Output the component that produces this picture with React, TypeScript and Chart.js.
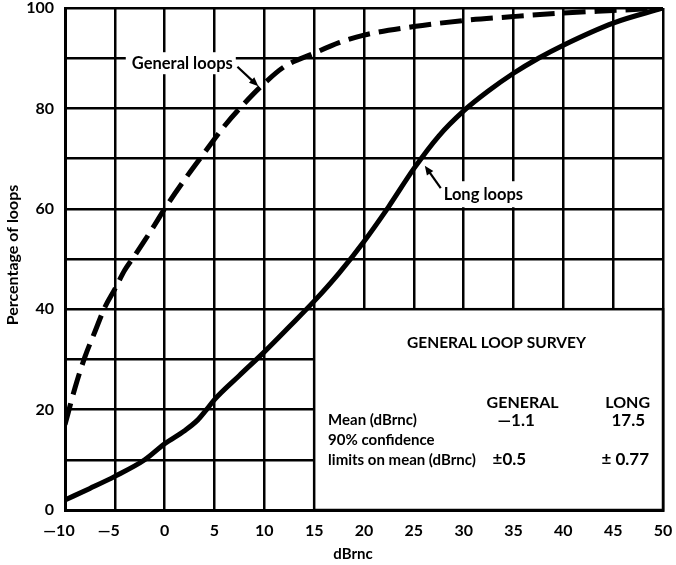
import React, { useEffect, useRef } from 'react';
import { Chart, registerables } from 'chart.js';

Chart.register(...registerables);

// ---- data ----
const generalX = [-10, -9, -8, -7, -6, -5, -4, -3, -2, -1, 0, 2, 4, 6, 8, 10, 12, 15, 17.5, 20, 25, 30, 35, 40, 45, 50];
const generalY = [17, 24.3, 30.5, 35.5, 40.4, 44, 47.8, 50.7, 53.7, 56.8, 60, 65.8, 71.2, 76.5, 81, 85, 88.3, 91, 93.1, 94.6, 96.3, 97.5, 98.3, 99, 99.5, 100];

const longX = [-10, -7.5, -5, -2, 0, 2, 3.3, 4.2, 5, 7.5, 10, 12.5, 15, 17.5, 20, 22.5, 25, 27.5, 30, 32.5, 35, 37.5, 40, 45, 50];
const longY = [2, 4.3, 6.7, 10, 13.2, 15.8, 17.9, 20, 22, 26.8, 31.5, 36.5, 41.6, 47.2, 53.5, 60.5, 68, 74.5, 79.5, 83.5, 87, 90, 92.6, 97, 100];

const yLabelValues = [0, 20, 40, 60, 80, 100];

const surveyTitle = 'GENERAL LOOP SURVEY';
const surveyColumns = ['GENERAL', 'LONG'];
const surveyRows = ['Mean (dBrnc)', '90% confidence', 'limits on mean (dBrnc)'];
const meanValues = ['\u20141.1', '17.5'];
const limitValues = ['\u00b10.5', '\u00b1 0.77'];

const FONT = 'Lato, "DejaVu Sans", sans-serif';

function arrow(ctx: CanvasRenderingContext2D, x0: number, y0: number, x1: number, y1: number) {
  const ang = Math.atan2(y1 - y0, x1 - x0);
  const head = 10;
  ctx.beginPath();
  ctx.moveTo(x0, y0);
  ctx.lineTo(x1 - Math.cos(ang) * head * 0.8, y1 - Math.sin(ang) * head * 0.8);
  ctx.lineWidth = 2.2;
  ctx.stroke();
  ctx.beginPath();
  ctx.moveTo(x1, y1);
  ctx.lineTo(x1 - head * Math.cos(ang - 0.4), y1 - head * Math.sin(ang - 0.4));
  ctx.lineTo(x1 - head * Math.cos(ang + 0.4), y1 - head * Math.sin(ang + 0.4));
  ctx.closePath();
  ctx.fill();
}

const overlayPlugin = {
  id: 'overlay',
  beforeDatasetsDraw(chart: any) {
    const { ctx, scales } = chart;
    const xs = scales.x;
    const ys = scales.y;
    const X = (v: number) => xs.getPixelForValue(v);
    const Y = (v: number) => ys.getPixelForValue(v);
    ctx.save();
    // white survey box
    const l = X(15), r = X(50), t = Y(40), b = Y(0);
    ctx.fillStyle = '#fff';
    ctx.fillRect(l, t, r - l, b - t);
    ctx.strokeStyle = '#000';
    ctx.lineWidth = 2.5;
    ctx.strokeRect(l, t, r - l, b - t);

    ctx.fillStyle = '#000';
    ctx.textBaseline = 'middle';
    ctx.font = `bold 15.5px ${FONT}`;
    ctx.textAlign = 'center';
    ctx.fillText(surveyTitle, X(33.3), Y(33.3));

    ctx.font = `bold 16px ${FONT}`;
    ctx.textAlign = 'left';
    ctx.fillText(surveyColumns[0], X(32.3), Y(21.3));
    ctx.textAlign = 'right';
    ctx.fillText(surveyColumns[1], X(48.7), Y(21.3));

    ctx.font = `bold 15px ${FONT}`;
    ctx.textAlign = 'left';
    ctx.fillText(surveyRows[0], X(16.4), Y(17.9));
    ctx.fillText(surveyRows[1], X(16.4), Y(13.9));
    ctx.fillText(surveyRows[2], X(16.4), Y(10));
    ctx.font = `bold 17px ${FONT}`;
    ctx.fillText(meanValues[0], X(33.4), Y(17.9));
    ctx.fillText(limitValues[0], X(32.9), Y(10));
    ctx.textAlign = 'right';
    ctx.fillText(meanValues[1], X(48.2), Y(17.9));
    ctx.fillText(limitValues[1], X(48.6), Y(10));

    // "General loops" label
    ctx.font = `bold 16.5px ${FONT}`;
    ctx.textAlign = 'left';
    let tw = ctx.measureText('General loops').width;
    ctx.fillStyle = '#fff';
    ctx.fillRect(X(-3.3) - 6, Y(89) - 11, tw + 9, 22);
    ctx.fillStyle = '#000';
    ctx.fillText('General loops', X(-3.3), Y(89));
    arrow(ctx, X(7.3), Y(88.3), X(9.4), Y(84.4));

    // "Long loops" label
    tw = ctx.measureText('Long loops').width;
    ctx.fillStyle = '#fff';
    ctx.fillRect(X(28) - 4, Y(62.9) - 13, tw + 10, 26);
    ctx.fillStyle = '#000';
    ctx.fillText('Long loops', X(28), Y(62.9));
    arrow(ctx, X(27.7), Y(64.1), X(26.1), Y(68.6));

    ctx.restore();
  },
  afterDraw(chart: any) {
    const { ctx, chartArea } = chart;
    ctx.save();
    ctx.fillStyle = '#000';
    ctx.font = `bold 15px ${FONT}`;
    ctx.textAlign = 'center';
    ctx.textBaseline = 'middle';
    ctx.fillText('dBrnc', (chartArea.left + chartArea.right) / 2 - 11, 554);
    ctx.font = `bold 16px ${FONT}`;
    ctx.translate(13, (chartArea.top + chartArea.bottom) / 2 - 4);
    ctx.rotate(-Math.PI / 2);
    ctx.fillText('Percentage of loops', 0, 0);
    ctx.restore();
  },
};

export default function App() {
  const ref = useRef<HTMLCanvasElement>(null);
  useEffect(() => {
    if (!ref.current) return;
    const chart = new Chart(ref.current, {
      type: 'line',
      data: {
        datasets: [
          {
            label: 'General loops',
            data: generalX.map((x, i) => ({ x, y: generalY[i] })),
            borderColor: '#000',
            borderWidth: 5,
            borderDash: [22, 9],
            pointRadius: 0,
            cubicInterpolationMode: 'monotone',
            fill: false,
          },
          {
            label: 'Long loops',
            data: longX.map((x, i) => ({ x, y: longY[i] })),
            borderColor: '#000',
            borderWidth: 5,
            pointRadius: 0,
            cubicInterpolationMode: 'monotone',
            fill: false,
          },
        ],
      },
      options: {
        animation: false,
        responsive: true,
        maintainAspectRatio: false,
        layout: { padding: { top: 8, right: 13, left: 0, bottom: 0 } },
        plugins: { legend: { display: false }, tooltip: { enabled: false } },
        scales: {
          x: {
            type: 'linear',
            min: -10,
            max: 50,
            afterFit: (s: any) => { s.height = 55; s.paddingLeft = 0; s.paddingRight = 0; },
            ticks: {
              stepSize: 5,
              color: '#000',
              padding: 11,
              maxRotation: 0,
              autoSkip: false,
              font: { family: FONT, size: 16, weight: 'bold' },
              callback: (v: any) => (v < 0 ? '\u2014' + -v + '\u2003' : String(v)),
            },
            grid: { color: '#000', lineWidth: 2.5, drawTicks: false },
            border: { color: '#000', width: 3 },
          },
          y: {
            type: 'linear',
            min: 0,
            max: 100,
            afterFit: (s: any) => { s.width = 65; s.paddingTop = 0; s.paddingBottom = 0; },
            ticks: {
              stepSize: 10,
              color: '#000',
              padding: 11,
              autoSkip: false,
              font: { family: FONT, size: 16, weight: 'bold' },
              callback: (v: any) => (yLabelValues.includes(v) ? String(v) : ''),
            },
            grid: { color: '#000', lineWidth: 2.5, drawTicks: false },
            border: { color: '#000', width: 3 },
          },
        },
      },
      plugins: [overlayPlugin],
    });
    return () => chart.destroy();
  }, []);
  return (
    <div style={{ position: 'fixed', left: 0, top: 0, width: 676, height: 565, background: '#fff' }}>
      <canvas ref={ref} />
    </div>
  );
}
